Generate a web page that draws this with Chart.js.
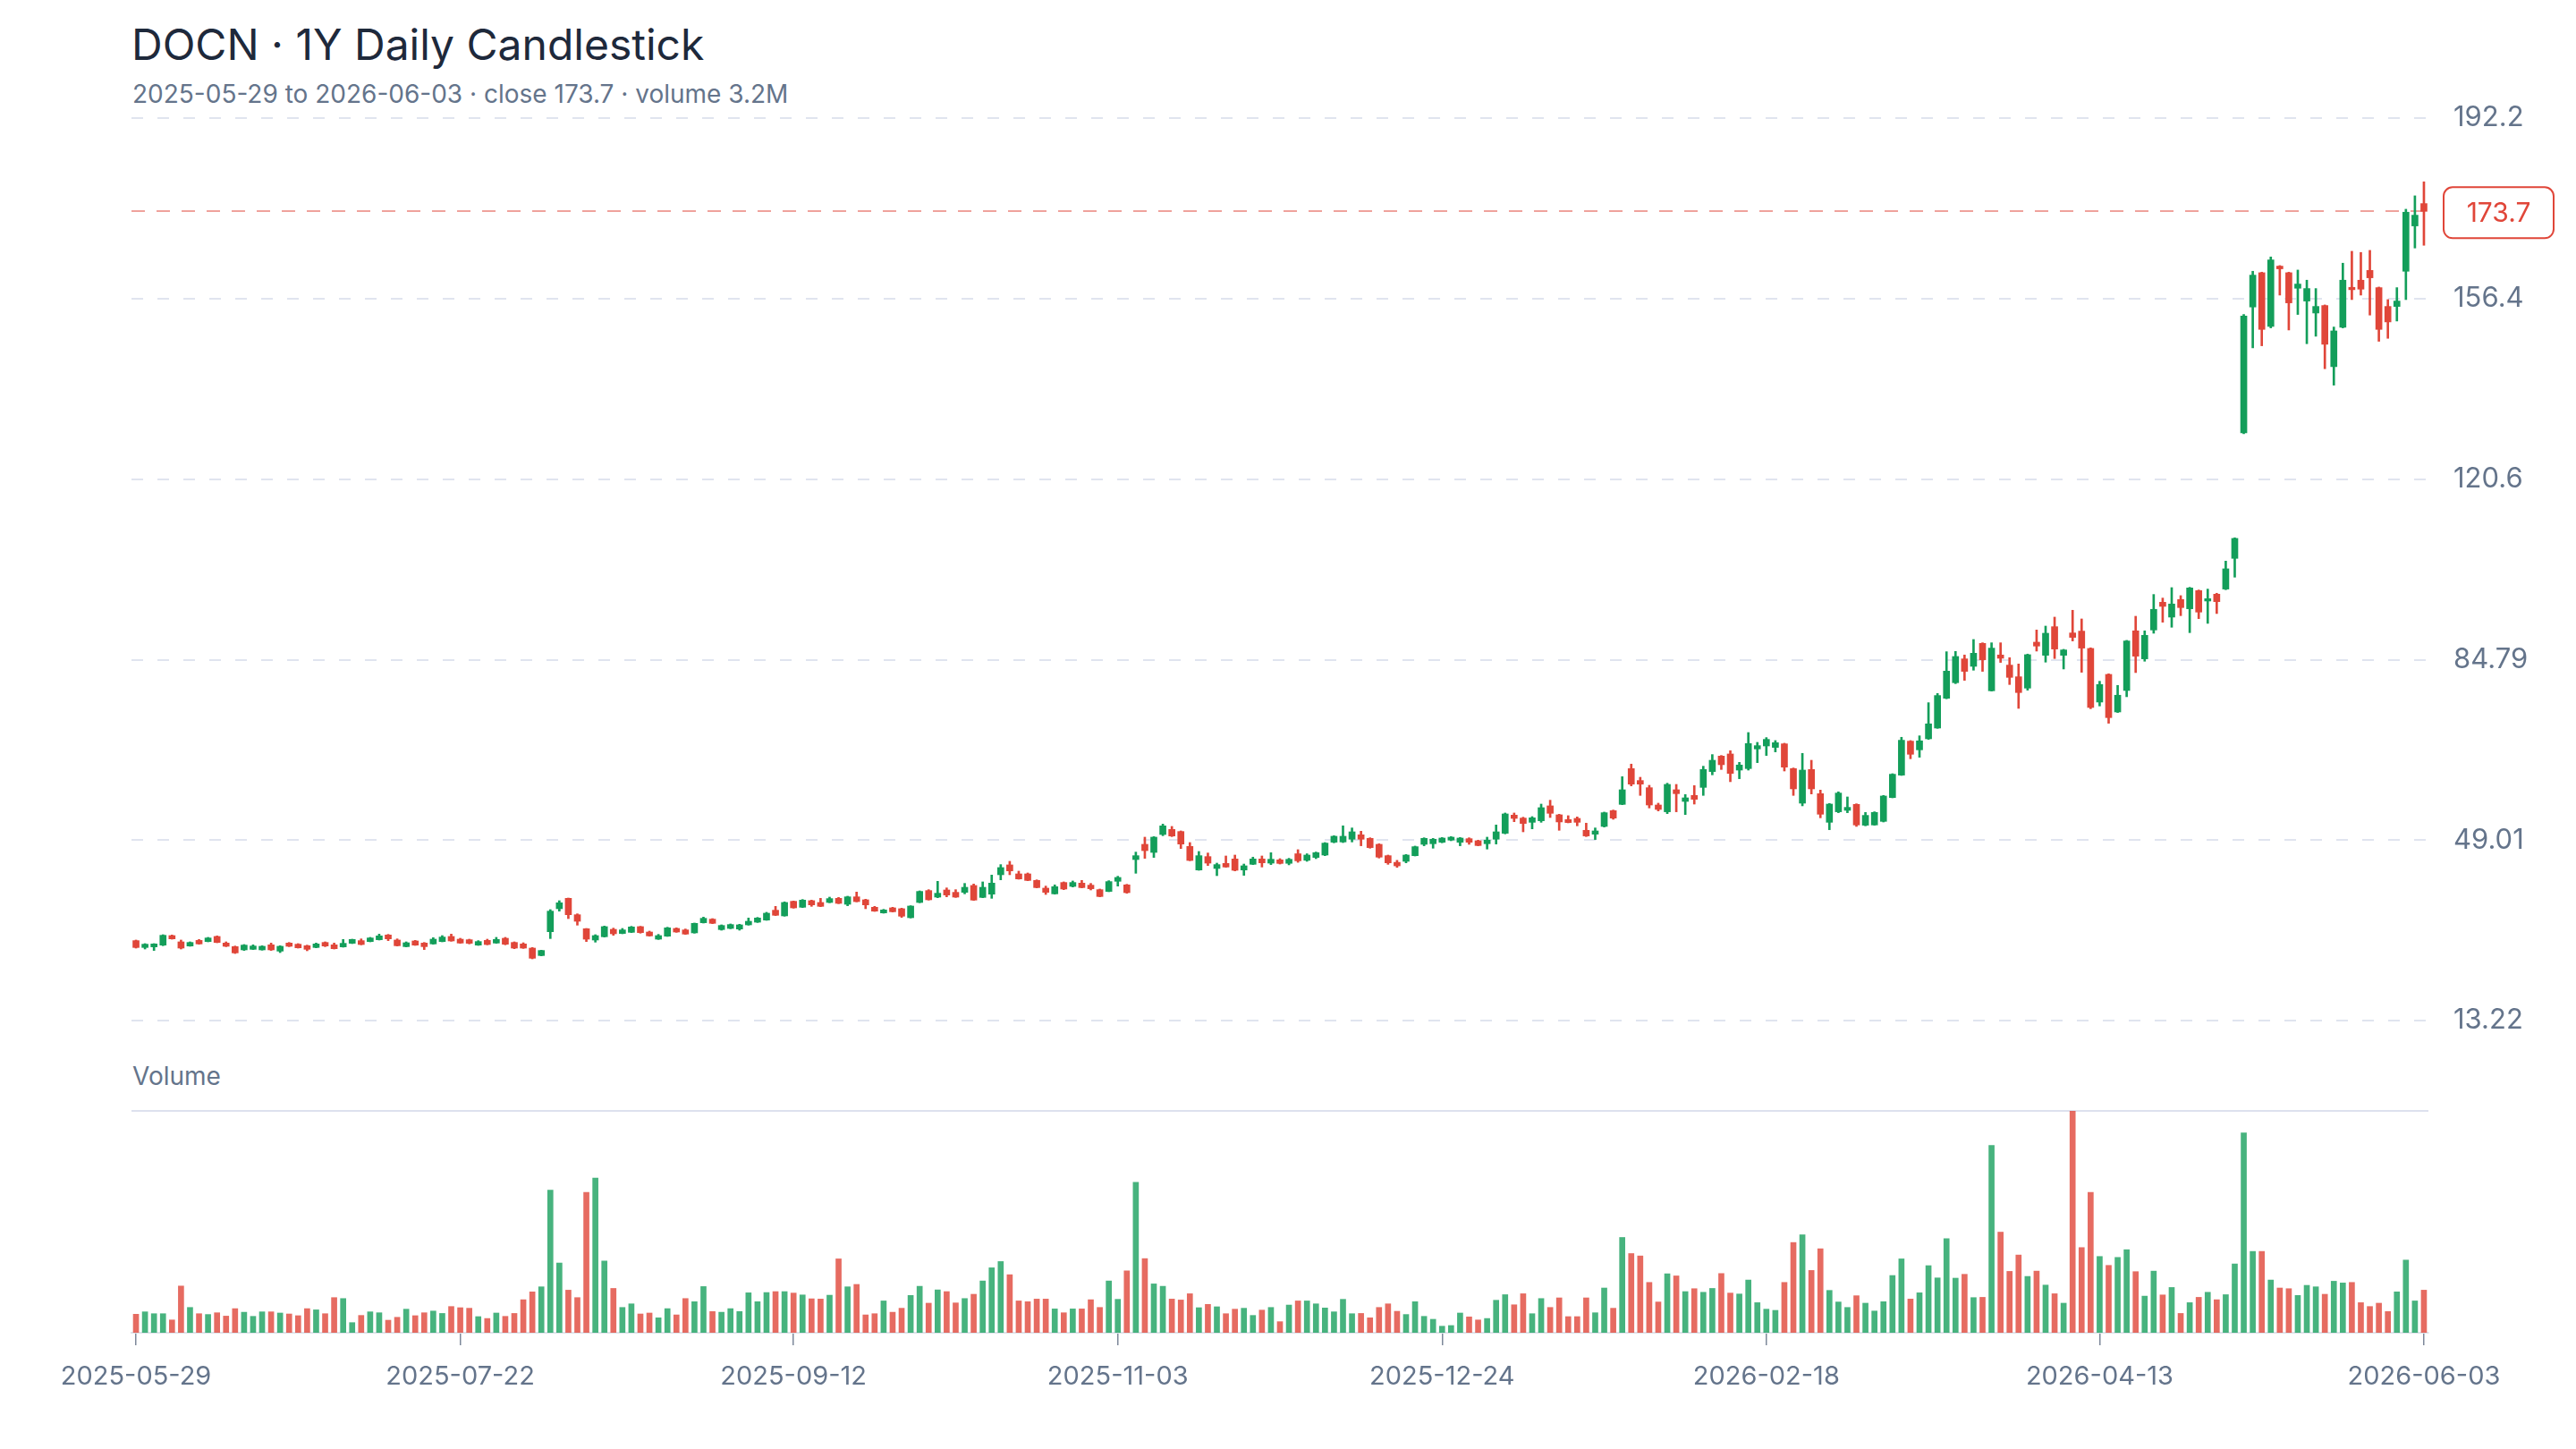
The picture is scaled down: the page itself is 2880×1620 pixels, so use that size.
<!DOCTYPE html>
<html>
<head>
<meta charset="utf-8">
<script src="https://cdn.jsdelivr.net/npm/chart.js@4.4.1/dist/chart.umd.min.js"></script>
<style>
	html, body { margin: 0; padding: 0; background: #fff; }
	body { width: 2880px; height: 1620px; position: relative; overflow: hidden; font-family: Inter, "Noto Sans", sans-serif; }
	#title { position: absolute; left: 147px; top: 26px; font-size: 48px; line-height: 48px; font-weight: 400; color: #1e293b; white-space: nowrap; }
	#subtitle { position: absolute; left: 148px; top: 91px; font-size: 28px; line-height: 28px; color: #64748b; white-space: nowrap; }
	#volLabel { position: absolute; left: 148px; top: 1189px; font-size: 28px; line-height: 28px; color: #64748b; }
	#price { position: absolute; left: 0; top: 0; }
	#volume { position: absolute; left: 0; top: 1160px; }
</style>
</head>
<body>
<div id="title">DOCN · 1Y Daily Candlestick</div>
<div id="subtitle">2025-05-29 to 2026-06-03 · close 173.7 · volume 3.2M</div>
<div id="volLabel">Volume</div>
<canvas id="price" width="2880" height="1200"></canvas>
<canvas id="volume" width="2880" height="460"></canvas>
<script>
// trading calendar
const START_DATE = '2025-05-29'
const HOLIDAYS = ['2025-06-19', '2025-07-04', '2025-09-01', '2025-11-27', '2025-12-25',
	'2026-01-01', '2026-01-19', '2026-02-16', '2026-04-03', '2026-05-25']
const TICK_LABELS = ['2025-05-29', '2025-07-22', '2025-09-12', '2025-11-03',
	'2025-12-24', '2026-02-18', '2026-04-13', '2026-06-03']
const PRICE_TICKS = [13.22, 49.01, 84.79, 120.6, 156.4, 192.2]
const LAST_CLOSE = 173.7

const OPEN = [
	29.07, 27.71, 27.83, 28.18, 30.07, 28.83, 28.00, 29.12, 28.89, 29.90,
	28.59, 27.88, 27.24, 27.35, 27.24, 28.24, 26.99, 28.59, 28.36, 28.06,
	27.71, 28.71, 28.24, 27.83, 28.54, 29.07, 28.89, 29.25, 30.19, 29.19,
	27.88, 29.01, 28.59, 28.42, 28.89, 29.90, 29.36, 29.25, 28.18, 29.12,
	28.59, 29.54, 28.71, 28.42, 27.59, 26.11, 30.84, 35.40, 37.46, 34.21,
	31.43, 29.19, 29.84, 31.31, 30.49, 30.72, 31.85, 30.78, 29.36, 29.95,
	31.49, 31.20, 30.61, 32.62, 33.33, 31.26, 31.49, 31.37, 32.20, 32.73,
	33.15, 35.10, 33.98, 36.87, 35.69, 37.00, 36.64, 36.64, 37.46, 36.28,
	37.76, 37.17, 35.69, 34.57, 35.57, 35.40, 33.62, 36.64, 39.00, 37.70,
	39.12, 38.65, 38.65, 40.01, 37.64, 38.29, 42.14, 44.09, 42.31, 42.31,
	41.01, 39.48, 38.35, 40.60, 39.83, 40.48, 40.07, 39.18, 38.83, 40.84,
	40.13, 45.15, 48.17, 46.57, 50.12, 51.12, 50.71, 47.75, 43.08, 45.74,
	43.38, 44.38, 45.27, 43.08, 44.21, 45.27, 44.44, 45.09, 44.40, 46.30,
	45.00, 45.57, 46.04, 48.59, 48.64, 49.18, 50.06, 49.35, 48.17, 45.92,
	44.60, 44.80, 45.92, 48.17, 48.29, 48.58, 49.00, 48.58, 49.29, 48.88,
	48.29, 49.18, 50.36, 53.96, 53.37, 52.54, 52.84, 55.80, 54.02, 53.08,
	53.31, 50.95, 50.18, 51.72, 54.85, 56.09, 63.19, 60.82, 59.40, 55.97,
	54.62, 58.99, 56.68, 57.87, 59.46, 62.60, 65.67, 66.09, 62.89, 63.19,
	67.09, 67.68, 67.39, 68.10, 63.19, 56.33, 63.01, 58.22, 52.54, 54.62,
	54.91, 56.09, 51.96, 52.01, 52.72, 57.45, 61.89, 68.63, 66.91, 69.10,
	71.23, 77.14, 80.22, 84.95, 83.47, 88.02, 78.62, 85.72, 83.71, 81.40,
	79.15, 88.26, 85.66, 91.33, 85.66, 90.09, 90.45, 87.02, 76.38, 81.87,
	74.42, 78.68, 90.51, 84.95, 90.68, 96.18, 93.23, 96.72, 94.88, 98.49,
	96.42, 97.78, 98.79, 104.88, 129.77, 154.73, 161.53, 150.88, 162.83, 161.53,
	158.45, 155.91, 153.54, 155.02, 142.90, 150.71, 158.63, 160.05, 161.99, 158.57,
	154.84, 154.84, 161.82, 170.81, 175.24
]
const HIGH = [
	29.19, 28.48, 28.48, 30.25, 30.19, 29.19, 28.83, 29.30, 29.72, 30.01,
	28.83, 28.00, 28.30, 28.24, 28.06, 28.59, 28.06, 28.71, 28.48, 28.18,
	28.59, 28.83, 28.59, 29.30, 29.36, 29.42, 29.72, 30.37, 30.31, 29.42,
	28.83, 29.12, 28.71, 29.66, 30.07, 30.37, 29.54, 29.36, 29.07, 29.36,
	29.72, 29.72, 28.83, 28.65, 27.71, 27.18, 35.22, 36.99, 37.52, 34.39,
	31.49, 30.25, 31.96, 31.55, 31.49, 31.91, 31.91, 30.96, 30.31, 31.73,
	31.61, 31.38, 32.56, 33.74, 33.44, 32.20, 32.38, 32.32, 33.56, 33.68,
	34.69, 35.87, 36.76, 36.93, 37.23, 37.11, 37.46, 37.70, 37.64, 37.88,
	38.71, 37.29, 35.87, 35.28, 35.69, 35.51, 35.99, 38.94, 39.18, 40.83,
	39.53, 39.18, 40.42, 40.30, 40.72, 42.08, 44.15, 44.80, 42.85, 42.49,
	41.13, 39.89, 40.13, 40.72, 40.90, 41.01, 40.42, 39.30, 40.96, 41.84,
	40.24, 46.63, 49.59, 49.70, 52.19, 51.72, 50.83, 48.52, 46.75, 46.45,
	44.44, 45.86, 46.04, 44.26, 45.63, 45.86, 46.51, 45.33, 45.40, 47.11,
	46.30, 46.64, 48.52, 49.88, 51.84, 51.42, 50.77, 49.47, 48.29, 46.04,
	45.00, 46.16, 47.82, 49.47, 49.35, 49.53, 49.71, 49.53, 49.47, 49.00,
	49.59, 52.01, 54.38, 54.38, 53.55, 53.67, 56.15, 56.92, 54.14, 53.85,
	53.61, 52.37, 51.42, 54.56, 54.97, 61.59, 64.08, 61.47, 59.88, 56.33,
	60.29, 60.05, 58.04, 59.82, 63.66, 65.97, 65.79, 66.74, 64.43, 70.34,
	68.39, 69.34, 68.75, 68.22, 63.31, 66.21, 64.84, 58.93, 56.27, 58.58,
	57.57, 56.21, 54.50, 54.62, 57.87, 62.18, 69.40, 68.75, 69.69, 76.26,
	78.09, 86.37, 86.43, 85.72, 88.79, 88.14, 88.14, 88.14, 85.19, 83.94,
	85.90, 90.68, 91.45, 93.23, 86.84, 94.59, 92.87, 87.14, 80.51, 81.99,
	79.69, 88.62, 93.40, 90.51, 97.72, 97.01, 99.08, 97.49, 99.14, 98.61,
	98.79, 97.96, 104.34, 108.96, 153.25, 161.82, 161.64, 164.66, 162.95, 161.64,
	162.06, 160.05, 158.39, 155.14, 150.76, 163.42, 165.78, 165.55, 165.96, 158.69,
	156.20, 158.57, 174.12, 176.78, 179.56
]
const LOW = [
	27.59, 27.41, 27.12, 28.06, 29.36, 27.41, 27.95, 28.36, 28.83, 28.65,
	27.88, 26.52, 27.12, 27.30, 27.18, 27.12, 26.70, 27.88, 27.59, 27.06,
	27.65, 27.88, 27.41, 27.77, 28.48, 28.24, 28.83, 29.19, 29.07, 28.00,
	27.83, 28.12, 27.30, 28.36, 28.83, 28.95, 28.54, 28.42, 28.12, 28.24,
	28.54, 28.24, 27.47, 27.53, 25.46, 26.05, 29.48, 34.92, 33.44, 32.14,
	28.89, 28.77, 29.78, 30.13, 30.43, 30.66, 30.55, 29.95, 29.30, 29.90,
	30.72, 30.31, 30.55, 32.56, 32.44, 31.14, 31.43, 31.14, 32.14, 32.67,
	33.09, 34.04, 33.92, 35.51, 35.63, 35.87, 35.81, 36.58, 36.40, 35.99,
	36.76, 35.40, 34.86, 34.51, 34.75, 33.68, 33.56, 36.58, 37.11, 37.58,
	37.76, 37.64, 38.35, 37.05, 37.58, 37.46, 41.13, 42.14, 41.25, 40.95,
	39.53, 38.23, 38.29, 39.18, 39.71, 39.53, 39.12, 37.76, 38.77, 39.89,
	38.47, 42.43, 45.39, 45.57, 49.88, 49.70, 47.34, 44.92, 43.02, 43.97,
	41.96, 43.62, 42.90, 42.02, 44.15, 43.67, 44.15, 44.26, 44.10, 44.60,
	44.80, 45.33, 45.92, 48.47, 48.52, 48.64, 47.88, 47.40, 45.45, 44.20,
	43.60, 44.50, 45.86, 47.88, 47.40, 48.47, 48.88, 47.88, 48.17, 47.88,
	47.23, 48.23, 50.24, 52.66, 50.65, 51.24, 52.54, 53.49, 50.95, 52.43,
	51.84, 49.71, 49.12, 51.60, 53.14, 56.03, 59.76, 57.87, 55.38, 54.79,
	54.26, 54.62, 54.08, 56.15, 57.87, 61.95, 63.01, 60.59, 61.18, 62.89,
	64.37, 65.79, 66.50, 62.71, 57.87, 55.80, 58.16, 53.43, 51.07, 54.44,
	54.44, 51.72, 51.84, 51.96, 52.60, 57.39, 61.83, 65.14, 65.44, 68.98,
	71.17, 77.03, 80.04, 80.69, 82.70, 82.47, 78.56, 84.24, 79.86, 75.13,
	78.74, 86.49, 84.30, 85.01, 82.94, 88.50, 82.29, 75.07, 75.61, 72.18,
	74.31, 77.44, 82.23, 84.48, 90.03, 92.22, 91.22, 93.52, 90.15, 92.93,
	91.99, 93.94, 98.67, 101.15, 129.60, 146.63, 147.04, 150.59, 157.09, 150.17,
	153.25, 147.45, 148.93, 142.49, 139.23, 150.59, 156.20, 157.09, 153.13, 147.93,
	148.52, 151.95, 156.20, 166.43, 166.97
]
const CLOSE = [
	27.71, 28.36, 28.42, 30.13, 29.42, 27.59, 28.71, 28.42, 29.60, 28.71,
	27.95, 26.64, 28.18, 28.00, 27.95, 27.24, 27.95, 27.95, 27.65, 27.35,
	28.42, 28.00, 27.47, 28.54, 29.30, 28.30, 29.60, 30.01, 29.42, 28.06,
	28.65, 28.18, 27.88, 29.36, 29.78, 29.01, 28.59, 28.54, 28.89, 28.30,
	29.30, 28.36, 27.59, 27.59, 25.58, 27.12, 34.92, 36.58, 34.21, 32.91,
	29.36, 30.07, 31.85, 30.43, 31.20, 31.79, 30.66, 30.01, 30.07, 31.61,
	30.78, 30.37, 32.50, 33.50, 32.50, 32.08, 32.26, 32.20, 32.91, 33.56,
	34.51, 34.10, 36.64, 35.57, 37.11, 36.16, 35.87, 37.41, 36.46, 37.76,
	36.81, 36.16, 34.92, 35.16, 34.80, 33.92, 35.93, 38.83, 37.17, 38.47,
	38.12, 37.70, 39.65, 37.11, 39.65, 40.48, 43.56, 42.90, 41.31, 41.01,
	39.59, 38.65, 39.77, 39.30, 40.60, 39.59, 39.36, 37.82, 40.78, 41.60,
	38.59, 45.92, 46.92, 49.59, 51.83, 49.82, 48.22, 44.97, 45.92, 44.44,
	44.15, 43.67, 43.02, 43.91, 45.27, 44.50, 45.21, 44.38, 45.20, 44.90,
	46.04, 46.52, 48.41, 49.77, 49.77, 50.65, 49.18, 47.52, 45.63, 44.50,
	43.90, 46.04, 47.70, 49.35, 49.18, 49.41, 49.59, 49.41, 48.58, 47.93,
	49.00, 50.65, 54.20, 53.31, 52.31, 53.43, 55.44, 54.32, 52.61, 52.49,
	52.54, 49.83, 50.83, 54.44, 53.37, 58.99, 60.11, 60.11, 55.97, 55.09,
	60.05, 58.22, 57.39, 57.10, 63.01, 64.84, 63.96, 62.24, 63.90, 68.16,
	67.74, 68.98, 68.33, 63.48, 59.17, 62.89, 59.17, 54.14, 56.15, 58.34,
	55.50, 52.01, 53.91, 54.50, 57.75, 62.07, 68.81, 66.03, 68.69, 72.06,
	77.68, 82.52, 85.42, 82.47, 86.07, 84.77, 87.08, 85.07, 81.28, 78.27,
	85.78, 87.49, 90.03, 86.90, 86.72, 89.21, 87.08, 75.31, 79.86, 73.30,
	77.74, 88.50, 85.48, 89.62, 94.77, 95.36, 95.83, 95.12, 99.02, 94.23,
	96.89, 96.30, 102.81, 108.84, 152.95, 161.05, 150.29, 164.07, 162.30, 155.55,
	159.28, 158.39, 154.84, 147.34, 149.99, 160.05, 158.16, 158.27, 160.52, 150.29,
	151.77, 155.91, 173.53, 172.94, 173.70
]
// volume in millions of shares
const VOLUME = [
	1.39, 1.57, 1.43, 1.43, 0.96, 3.51, 1.90, 1.43, 1.37, 1.50,
	1.25, 1.81, 1.54, 1.23, 1.57, 1.57, 1.48, 1.41, 1.28, 1.81,
	1.72, 1.43, 2.64, 2.57, 0.76, 1.30, 1.57, 1.50, 0.94, 1.16,
	1.77, 1.28, 1.50, 1.63, 1.45, 1.97, 1.88, 1.84, 1.21, 1.07,
	1.48, 1.23, 1.45, 2.48, 3.07, 3.45, 10.72, 5.24, 3.20, 2.64,
	10.54, 11.62, 5.39, 3.33, 1.90, 2.17, 1.41, 1.48, 1.12, 1.81,
	1.34, 2.57, 2.33, 3.47, 1.59, 1.54, 1.81, 1.59, 3.00, 2.33,
	3.02, 3.09, 3.09, 2.98, 2.84, 2.55, 2.53, 2.82, 5.55, 3.45,
	3.63, 1.34, 1.43, 2.39, 1.54, 1.84, 2.80, 3.49, 2.22, 3.22,
	3.09, 2.24, 2.57, 2.89, 3.89, 4.88, 5.35, 4.36, 2.39, 2.33,
	2.53, 2.53, 1.79, 1.50, 1.79, 1.79, 2.48, 1.90, 3.89, 2.51,
	4.65, 11.30, 5.57, 3.67, 3.49, 2.53, 2.46, 2.93, 1.88, 2.13,
	1.95, 1.43, 1.77, 1.84, 1.30, 1.70, 1.90, 0.83, 2.08, 2.39,
	2.39, 2.17, 1.86, 1.57, 2.51, 1.43, 1.45, 1.12, 1.90, 2.17,
	1.61, 1.37, 2.33, 1.23, 1.01, 0.49, 0.54, 1.48, 1.19, 0.96,
	1.07, 2.44, 2.86, 2.10, 2.93, 1.43, 2.57, 1.90, 2.62, 1.21,
	1.21, 2.62, 1.50, 3.36, 1.84, 7.16, 5.95, 5.77, 3.78, 2.31,
	4.43, 4.27, 3.09, 3.31, 3.04, 3.33, 4.45, 2.98, 2.91, 3.96,
	2.26, 1.77, 1.68, 3.78, 6.78, 7.36, 4.68, 6.31, 3.18, 2.31,
	1.90, 2.78, 2.22, 1.63, 2.33, 4.30, 5.55, 2.53, 3.00, 5.04,
	4.12, 7.07, 4.10, 4.39, 2.64, 2.66, 14.08, 7.56, 4.61, 5.84,
	4.23, 4.63, 3.58, 2.93, 2.22, 16.67, 6.40, 10.54, 5.73, 5.06,
	5.66, 6.24, 4.59, 2.75, 4.63, 2.84, 3.40, 1.45, 2.26, 2.66,
	3.04, 2.48, 2.86, 5.17, 15.02, 6.11, 6.11, 3.96, 3.36, 3.31,
	2.80, 3.56, 3.45, 2.89, 3.87, 3.74, 3.78, 2.26, 1.97, 2.22,
	1.59, 3.07, 5.46, 2.39, 3.20
]

const UP = '#139e5a'
const DOWN = '#e04639'
const UP_VOL = 'rgba(19,158,90,0.78)'
const DOWN_VOL = 'rgba(224,70,57,0.8)'
const FONT = 'Inter, "Noto Sans", sans-serif'
const PLOT_LEFT = 147
const AXIS_RIGHT = 165
// wanted plot box of the price panel, in canvas pixels
const PRICE_TOP = 132
const PRICE_BOTTOM = 1141

function tradingDays(start, count) {
	const out = []
	const d = new Date(start + 'T00:00:00Z')
	while (out.length < count) {
		const s = d.toISOString().slice(0, 10)
		const wd = d.getUTCDay()
		if (wd !== 0 && wd !== 6 && !HOLIDAYS.includes(s)) out.push(s)
		d.setUTCDate(d.getUTCDate() + 1)
	}
	return out
}

const dates = tradingDays(START_DATE, CLOSE.length)
const tickIdx = TICK_LABELS.map(l => dates.indexOf(l))
const isUp = CLOSE.map((c, i) => c >= OPEN[i])

const lastPrice = {
	id: 'lastPrice',
	beforeDatasetsDraw(chart) {
		const { ctx, chartArea, scales: { y } } = chart
		const py = Math.round(y.getPixelForValue(LAST_CLOSE))
		ctx.save()
		ctx.strokeStyle = 'rgba(224,70,57,0.5)'
		ctx.lineWidth = 2
		ctx.setLineDash([15, 13])
		ctx.beginPath()
		ctx.moveTo(chartArea.left, py)
		ctx.lineTo(chartArea.right, py)
		ctx.stroke()
		ctx.restore()
	},
	afterDraw(chart) {
		const { ctx, chartArea, scales: { y } } = chart
		const py = y.getPixelForValue(LAST_CLOSE)
		const x = chartArea.right + 17, w = 123, h = 57, top = py - 27
		ctx.save()
		ctx.beginPath()
		ctx.roundRect(x, top, w, h, 10)
		ctx.fillStyle = '#fff'
		ctx.fill()
		ctx.lineWidth = 2
		ctx.strokeStyle = DOWN
		ctx.stroke()
		ctx.fillStyle = DOWN
		ctx.font = '30px ' + FONT
		ctx.textAlign = 'center'
		ctx.textBaseline = 'middle'
		ctx.fillText(LAST_CLOSE.toFixed(1), x + w / 2, top + h / 2 + 1)
		ctx.restore()
	}
}

const priceChart = new Chart(document.getElementById('price'), {
	type: 'bar',
	data: {
		labels: dates,
		datasets: [{
			label: 'body',
			data: dates.map((d, i) => [OPEN[i], CLOSE[i]]),
			backgroundColor: isUp.map(u => u ? UP : DOWN),
			barThickness: 7,
			minBarLength: 2,
			grouped: false,
			order: 0,
		}, {
			label: 'wick',
			data: dates.map((d, i) => [LOW[i], HIGH[i]]),
			backgroundColor: isUp.map(u => u ? UP : DOWN),
			barThickness: 2,
			grouped: false,
			order: 1,
		}],
	},
	options: {
		responsive: false,
		animation: false,
		layout: { padding: { left: PLOT_LEFT, top: PRICE_TOP, right: 0, bottom: 1200 - PRICE_BOTTOM } },
		plugins: { legend: { display: false }, tooltip: { enabled: false } },
		scales: {
			x: { display: false, offset: true },
			y: {
				position: 'right',
				min: PRICE_TICKS[0],
				max: PRICE_TICKS[PRICE_TICKS.length - 1],
				afterBuildTicks: a => { a.ticks = PRICE_TICKS.map(v => ({ value: v })) },
				afterFit: a => { a.width = AXIS_RIGHT; a.paddingTop = 0; a.paddingBottom = 0 },
				grid: { color: '#e0e4ef', lineWidth: 2, drawTicks: false },
				border: { display: false, dash: [13, 16] },
				ticks: {
					padding: 28,
					color: '#64748b',
					font: { family: FONT, size: 31 },
					callback: v => String(v),
				},
			},
		},
	},
	plugins: [lastPrice],
})

// pin the plot box where the reference has it
const pad = priceChart.options.layout.padding
const area = priceChart.chartArea
pad.top += PRICE_TOP - area.top
pad.bottom += area.bottom - PRICE_BOTTOM
priceChart.update()

const volTop = {
	id: 'volTop',
	beforeDatasetsDraw(chart) {
		const { ctx, chartArea } = chart
		ctx.save()
		ctx.strokeStyle = '#dde1ee'
		ctx.lineWidth = 2
		ctx.beginPath()
		ctx.moveTo(chartArea.left, chartArea.top)
		ctx.lineTo(chartArea.right, chartArea.top)
		ctx.stroke()
		ctx.restore()
	}
}

new Chart(document.getElementById('volume'), {
	type: 'bar',
	data: {
		labels: dates,
		datasets: [{
			label: 'Volume',
			data: VOLUME,
			backgroundColor: isUp.map(u => u ? UP_VOL : DOWN_VOL),
			barThickness: 6,
		}],
	},
	options: {
		responsive: false,
		animation: false,
		layout: { padding: { left: PLOT_LEFT, top: 82, right: AXIS_RIGHT, bottom: 0 } },
		plugins: { legend: { display: false }, tooltip: { enabled: false } },
		scales: {
			x: {
				offset: true,
				afterBuildTicks: a => { a.ticks = tickIdx.map(v => ({ value: v })) },
				afterFit: a => { a.height = 130 },
				grid: { drawOnChartArea: false, offset: false, tickLength: 14, color: '#7d889a', lineWidth: 1.5 },
				border: { color: '#dfe3ea', width: 2 },
				ticks: {
					autoSkip: false,
					maxRotation: 0,
					padding: 18,
					color: '#64748b',
					font: { family: FONT, size: 29 },
				},
			},
			y: { display: false, min: 0, max: Math.max(...VOLUME) },
		},
	},
	plugins: [volTop],
})
</script>
</body>
</html>
